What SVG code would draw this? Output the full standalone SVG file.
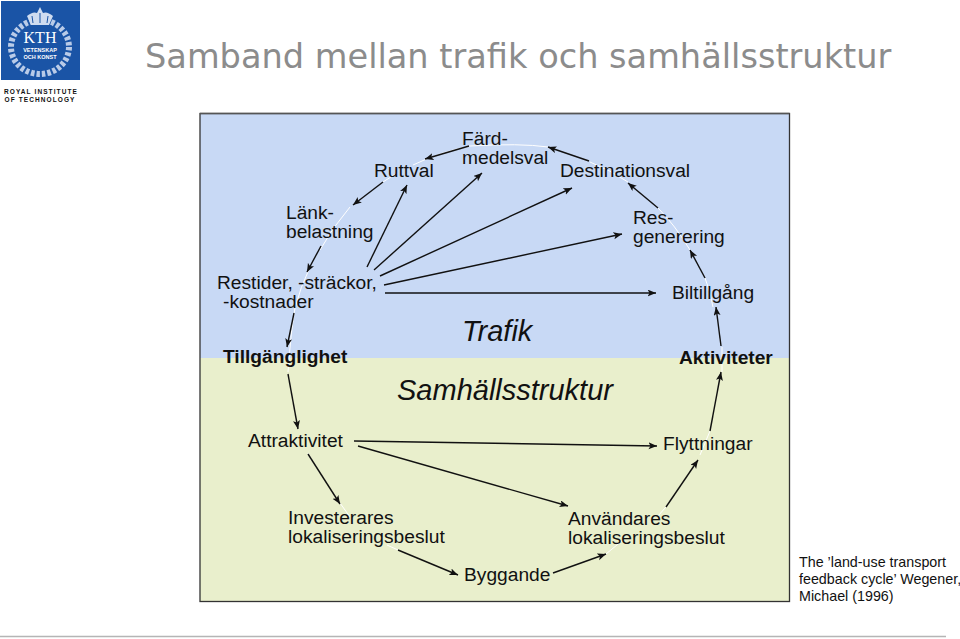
<svg xmlns="http://www.w3.org/2000/svg" width="960" height="639" viewBox="0 0 960 639">
<style>
text{font-family:"Liberation Sans",Arial,sans-serif;fill:#111;font-size:19.2px}
.b{font-weight:700}
.i{font-style:italic;font-size:29px}
.c{stroke:#111;stroke-width:1.4;fill:none;marker-end:url(#a)}
.w{stroke:#fff;stroke-width:1;fill:none}
.s{font-size:14.3px}
</style>
<defs>
<marker id="a" markerUnits="userSpaceOnUse" markerWidth="10" markerHeight="8" refX="8.500" refY="3.500" orient="auto"><path d="M0 0L8.500 3.500L0 7L2 3.500Z" fill="#111"/></marker>
</defs>
<rect width="960" height="639" fill="#fff"/>
<g id="logo">
<rect x="1" y="1" width="79" height="79" fill="#1a54a6"/>
<ellipse cx="40" cy="47" rx="29" ry="27" fill="none" stroke="#b9cbe8" stroke-width="6" stroke-dasharray="3.500 2"/>
<path d="M31 25L27 16Q33 11 37 13L40 7L43 13Q47 11 53 16L49 25Z" fill="#cfdcf0"/>
<path d="M33 23L32 16M40 23V13M47 23L48 16" stroke="#1a54a6"/>
<text x="40" y="43" text-anchor="middle" style="font-family:'Liberation Serif',serif;font-size:16px;fill:#fff">KTH</text>
<text x="40" y="52" text-anchor="middle" style="font-size:5.500px;font-weight:700;fill:#fff">VETENSKAP</text>
<text x="40" y="59" text-anchor="middle" style="font-size:5.500px;font-weight:700;fill:#fff">OCH KONST</text>
<text x="41" y="93.500" text-anchor="middle" style="font-size:6.500px;font-weight:700;letter-spacing:1.100px">ROYAL INSTITUTE</text>
<text x="40" y="101.500" text-anchor="middle" style="font-size:6.500px;font-weight:700;letter-spacing:1.100px">OF TECHNOLOGY</text>
</g>
<text id="title" x="145" y="68" style="font-family:'DejaVu Sans',sans-serif;font-size:33.600px;fill:#8c8c8c">Samband mellan trafik och samhällsstruktur</text>
<g id="panel">
<rect x="200" y="113" width="590" height="245" fill="#c8d9f5"/>
<rect x="200" y="358" width="590" height="244" fill="#e9efcc"/>
<rect x="200" y="113.500" width="589.500" height="488" fill="none" stroke="#333" stroke-width="1.300"/>
<path d="M200 113.500H789.500" stroke="#555" stroke-width="1.500"/>
</g>
<g id="arc">
<path class="w" d="M470 146Q440 152 413 165M397 173L383 182M350 207Q332 228 320 250M310 267Q300 288 295 308Q291 330 288 372M308 453L312 461M340 503L350 517M387 545L398 550M606 554L623 540M657 517L666 507M700 455L710 431M722 372V347M713 307Q710 290 705 278M690 250Q675 225 658 208M628 182Q610 170 590 162M548 147Q520 143 470 146"/>
</g>
<g id="connectors">
<path class="c" d="M469 146L425 159"/>
<path class="c" d="M383 182L353 205"/>
<path class="c" d="M321 246L307 272"/>
<path class="c" d="M294 313L287 347"/>
<path class="c" d="M288 374L298 429"/>
<path class="c" d="M308 454L340 504"/>
<path class="c" d="M398 550L458 575"/>
<path class="c" d="M553 573L606 554"/>
<path class="c" d="M666 507L698 460"/>
<path class="c" d="M710 431L721 372"/>
<path class="c" d="M721 346L716 307"/>
<path class="c" d="M705 278L690 250"/>
<path class="c" d="M658 208L628 183"/>
<path class="c" d="M589 161L548 147"/>
<path class="c" d="M367 267L407 185"/>
<path class="c" d="M374 270L482 173"/>
<path class="c" d="M380 276L572 188"/>
<path class="c" d="M384 285L622 234"/>
<path class="c" d="M385 293L656 293"/>
<path class="c" d="M354 441L657 446"/>
<path class="c" d="M358 446L568 506"/>
</g>
<g id="n-ruttval"><text x="374" y="177">Ruttval</text></g>
<g id="n-fard"><text x="462" y="145">Färd-</text><text x="462" y="164">medelsval</text></g>
<g id="n-destination"><text x="560" y="177">Destinationsval</text></g>
<g id="n-lank"><text x="286" y="219">Länk-</text><text x="286" y="238">belastning</text></g>
<g id="n-res"><text x="633" y="224">Res-</text><text x="633" y="243">generering</text></g>
<g id="n-restider"><text x="217" y="289">Restider, -sträckor,</text><text x="223" y="308">-kostnader</text></g>
<g id="n-bil"><text x="672" y="299">Biltillgång</text></g>
<g id="n-trafik"><text class="i" x="462" y="341">Trafik</text></g>
<g id="n-tillg"><text class="b" x="223" y="363">Tillgänglighet</text></g>
<g id="n-akt"><text class="b" x="679" y="364">Aktiviteter</text></g>
<g id="n-samh"><text class="i" x="397" y="400">Samhällsstruktur</text></g>
<g id="n-attr"><text x="248" y="447">Attraktivitet</text></g>
<g id="n-flytt"><text x="663" y="450">Flyttningar</text></g>
<g id="n-inv"><text x="288" y="524">Investerares</text><text x="288" y="543">lokaliseringsbeslut</text></g>
<g id="n-anv"><text x="568" y="525">Användares</text><text x="568" y="544">lokaliseringsbeslut</text></g>
<g id="n-bygg"><text x="464" y="581">Byggande</text></g>
<g id="caption"><text class="s" x="799" y="567">The ’land-use transport</text><text class="s" x="799" y="584">feedback cycle’ Wegener,</text><text class="s" x="799" y="601">Michael (1996)</text></g>
<path id="footer" d="M0 636.500H946" stroke="#b5b5b5" stroke-width="1.500"/>
</svg>
